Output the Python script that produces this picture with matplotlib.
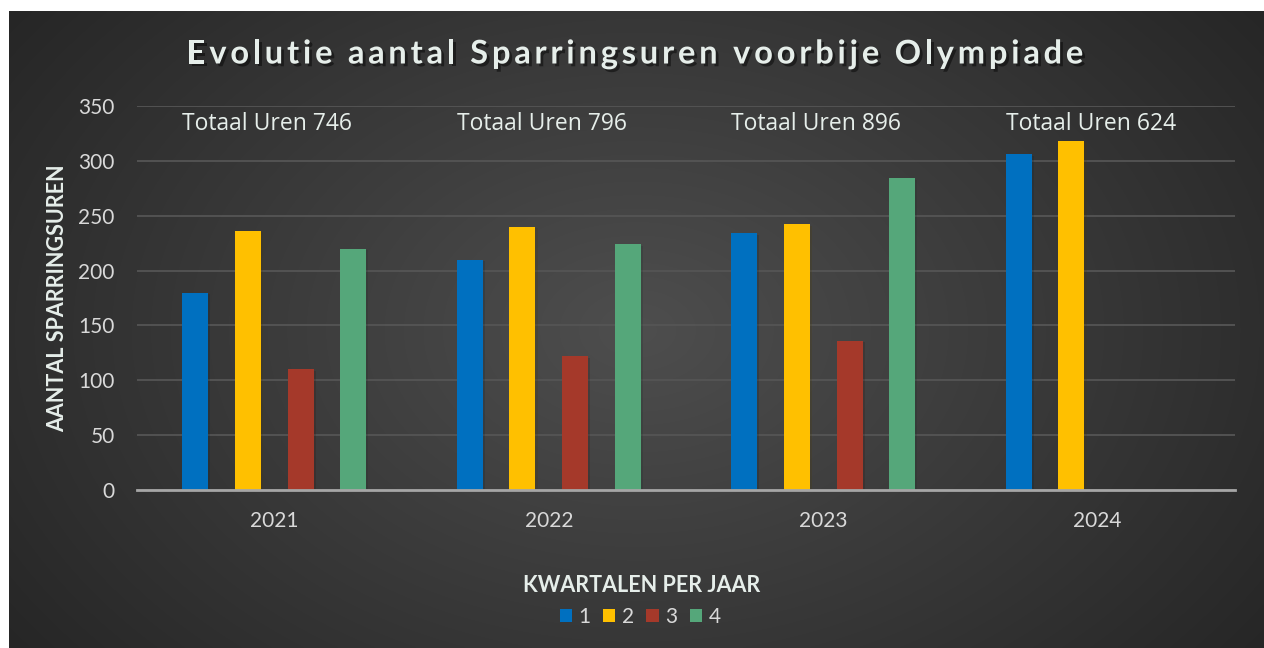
import numpy as np
import matplotlib
matplotlib.use("Agg")
import matplotlib.pyplot as plt
import matplotlib.patheffects as pe
from matplotlib.patches import Patch


years = ["2021", "2022", "2023", "2024"]
q1 = [180, 210, 234, 306]
q2 = [236, 240, 242, 318]
q3 = [110, 122, 136, 0]
q4 = [220, 224, 284, 0]
totals = [746, 796, 896, 624]
quarter_labels = ["1", "2", "3", "4"]

colors = ["#0070C0", "#FFC000", "#A5392A", "#55A77A"]
text_col = "#E6EEEA"
tick_col = "#D9D9D9"

plt.rcParams["font.family"] = ["Lato", "DejaVu Sans"]

fig = plt.figure(figsize=(12.64, 6.48), dpi=100)
fig.patch.set_facecolor("white")

# radial gradient background panel
bg = fig.add_axes([9 / 1264, 0, 1 - 9 / 1264, (648 - 11) / 648], zorder=-10)
h, w = 320, 630
yy, xx = np.mgrid[0:h, 0:w]
d = np.sqrt(((xx - w * 0.5) / (w * 0.62)) ** 2 + ((yy - h * 0.5) / (h * 0.85)) ** 2)
d = np.clip(d, 0, 1)
c0 = np.array([0x4E, 0x4E, 0x4E]) / 255
c1 = np.array([0x26, 0x26, 0x26]) / 255
img = c0[None, None, :] * (1 - d[..., None]) + c1[None, None, :] * d[..., None]
bg.imshow(img, aspect="auto", interpolation="bilinear")
bg.axis("off")

ax = fig.add_axes([137 / 1264, (648 - 490) / 648, (1235 - 137) / 1264, (490 - 106) / 648])
ax.set_facecolor("none")

x = np.arange(len(years))
bw = 0.095
step = 0.192
series = [q1, q2, q3, q4]
for i, vals in enumerate(series):
    ax.bar(
        x + (i - 1.5) * step, vals, width=bw, color=colors[i], zorder=3,
        path_effects=[pe.SimplePatchShadow(offset=(1.5, -1), alpha=0.2), pe.Normal()]
    )

for i, t in enumerate(totals):
    ax.text(
        x[i] - 1.5 * step - bw / 2, 334, f"Totaal Uren {t}",
        color=text_col, fontsize=16.5, fontfamily=["Open Sans", "DejaVu Sans"],
        ha="left", va="center"
    )

ax.set_xlim(-0.5, 3.5)
ax.set_ylim(0, 350)
ax.set_yticks(range(0, 351, 50))
ax.set_xticks(x)
ax.set_xticklabels(years)
ax.tick_params(axis="both", length=0, colors=tick_col, labelsize=15)
ax.tick_params(axis="y", pad=16)
ax.tick_params(axis="x", pad=15)
ax.grid(axis="y", color="#555555", linewidth=1.3, zorder=0)
for s in ["top", "right", "left"]:
    ax.spines[s].set_visible(False)
ax.spines["bottom"].set_color("#A6A6A6")
ax.spines["bottom"].set_linewidth(2)
ax.spines["bottom"].set_zorder(4)

fig.text(58 / 1264, 1 - 298 / 648, "AANTAL SPARRINGSUREN", rotation=90,
         color=text_col, fontsize=15.5, fontweight="bold", ha="center", va="center")
fig.text(642 / 1264, 1 - 585 / 648, "KWARTALEN PER JAAR",
         color=text_col, fontsize=15.5, fontweight="bold", ha="center", va="center")

# title with letter spacing
title = "Evolutie aantal Sparringsuren voorbije Olympiade"
fig.canvas.draw()
r = fig.canvas.get_renderer()
track = 3.8
probe = fig.text(0, 0, "", fontsize=23.5, fontweight="bold")
offs = []
for k in range(len(title) + 1):
    probe.set_text(title[:k] if k > 0 else "")
    offs.append(probe.get_window_extent(r).width if k > 0 else 0)
probe.remove()
total_w = offs[-1] + track * (len(title) - 1)
x0 = 635 - total_w / 2
for k, ch in enumerate(title):
    if ch == " ":
        continue
    fig.text(
        (x0 + offs[k] + track * k) / 1264, 1 - 54 / 648, ch,
        fontsize=23.5, fontweight="bold", color=text_col, va="center",
        path_effects=[pe.withSimplePatchShadow(offset=(2, -2), shadow_rgbFace="black", alpha=0.45)]
    )

handles = [Patch(facecolor=colors[i], label=quarter_labels[i]) for i in range(4)]
fig.legend(
    handles=handles, loc="center", bbox_to_anchor=(640 / 1264, 1 - 617 / 648),
    ncol=4, frameon=False, fontsize=15, labelcolor=tick_col,
    handlelength=0.6, handleheight=0.6, handletextpad=0.3, columnspacing=0.6
)

fig.savefig("out.png", dpi=100, facecolor=fig.get_facecolor())
